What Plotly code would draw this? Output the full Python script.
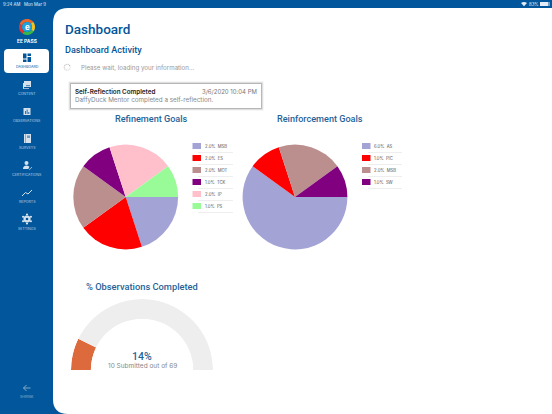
import math
import plotly.graph_objects as go

# chart data
refine_labels = ["MSB", "ES", "MOT", "TCK", "IP", "PS"]
refine_values = [2, 2, 2, 1, 2, 1]
refine_colors = ["#a3a3d6", "#ff0000", "#bc8f8f", "#800080", "#ffc0cb", "#98fb98"]

reinforce_labels = ["AS", "PIC", "MSB", "SW"]
reinforce_values = [6, 1, 2, 1]
reinforce_colors = ["#a3a3d6", "#ff0000", "#bc8f8f", "#800080"]

submitted = 10
total_obs = 69

nav_labels = ["DASHBOARD", "CONTENT", "OBSERVATIONS", "SURVEYS", "CERTIFICATIONS", "REPORTS", "SETTINGS"]
nav_label_y = [67, 94, 121, 148, 175, 202, 229]

BLUE = "#02569b"
TITLE = "#1f6399"
ICON = "#d5e2ee"
W, H = 552, 414
FONT = "Inter"
HEAD = "Roboto"

shapes = []
annos = []


def rect(x0, y0, x1, y1, color, opacity=1):
    shapes.append(dict(type="rect", xref="x", yref="y", x0=x0, y0=y0, x1=x1, y1=y1,
                       fillcolor=color, opacity=opacity, line_width=0, layer="below"))


def circle(cx, cy, r, color, opacity=1):
    shapes.append(dict(type="circle", xref="x", yref="y", x0=cx - r, y0=cy - r, x1=cx + r, y1=cy + r,
                       fillcolor=color, opacity=opacity, line_width=0, layer="below"))


def path(d, color=None, line=None, width=1):
    shapes.append(dict(type="path", xref="x", yref="y", path=d, fillcolor=color or "rgba(0,0,0,0)",
                       line=dict(color=line or "rgba(0,0,0,0)", width=width), layer="below"))


def text(x, y, s, size, color, anchor="left", weight=400, family=FONT):
    annos.append(dict(xref="x", yref="y", x=x, y=y, text=s, showarrow=False, borderpad=0, borderwidth=0,
                      xanchor=anchor, yanchor="middle", align=anchor,
                      font=dict(family=family, size=size, color=color, weight=weight)))


def arc(cx, cy, r, a0, a1):
    pts = []
    for i in range(13):
        a = math.radians(a0 + (a1 - a0) * i / 12)
        pts.append(f"{cx + r * math.cos(a):.2f},{cy + r * math.sin(a):.2f}")
    return pts


def pie_domain(cx, cy, r):
    return dict(x=[(cx - r) / W, (cx + r) / W], y=[1 - (cy + r) / H, 1 - (cy - r) / H])


def pie(labels, values, colors, cx, cy, r):
    return go.Pie(labels=labels, values=values, marker=dict(colors=colors, line=dict(width=0)),
                  sort=False, direction="clockwise", rotation=90, textinfo="none", hoverinfo="label+value",
                  showlegend=False, domain=pie_domain(cx, cy, r))


def legend(labels, values, colors, swatch_x, text_x, line_x0, line_x1):
    for i, lab in enumerate(labels):
        y = 146 + 12 * i
        rect(swatch_x, y - 3, swatch_x + 8.5, y + 3, colors[i])
        text(text_x, y, f"{values[i]:.1f}%&nbsp;&nbsp;{lab}", 4.2, "#555555")
        rect(line_x0, y + 6, line_x1, y + 6.6, "#dddddd")


# white content panel, rounded on the left
r = 15
path(f"M 53,{8 + r} Q 53,8 {53 + r},8 L {W},8 L {W},{H} L {53 + r},{H} Q 53,{H} 53,{H - r} Z", color="white")

# status bar
text(3, 4, "9:24 AM&nbsp;&nbsp;&nbsp;Mon Mar 9", 4.3, "#e4edf5")
text(539, 4, "83%", 4.3, "#e4edf5", anchor="right")
path("M 521,3 L 524,6.3 L 527,3 Q 524,0.8 521,3 Z", color="#e4edf5")
rect(540, 2, 550, 6, "#e4edf5")
rect(548, 2, 550, 6, "#6f9fc6")

# logo
for a0, a1, col in [(200, 320, "#e8682b"), (320, 395, "#f4c21f"), (35, 125, "#38b44a"), (125, 200, "#e5342b")]:
    path("M " + " L ".join(arc(27, 27, 8, a0, a1)) + " L " + " L ".join(arc(27, 27, 5, a1, a0)) + " Z", color=col)
circle(27, 27, 5, "#1fa3dc")
text(27, 27, "e", 8, "white", anchor="center", weight=700)
text(27, 40.5, "EE PASS", 4.9, "white", anchor="center", weight=700)

# selected nav item
path("M 8,49 L 45,49 Q 49,49 49,53 L 49,69 Q 49,73 45,73 L 8,73 Q 4,73 4,69 L 4,53 Q 4,49 8,49 Z", color="white")

for name, ly in zip(nav_labels, nav_label_y):
    col = BLUE if name == "DASHBOARD" else "#b9cfe2"
    text(27, ly, name, 3.6, col, anchor="center")

# nav icons
rect(23, 53.5, 26.5, 58.5, BLUE)
rect(27.5, 53.5, 31, 56, BLUE)
rect(23, 59.5, 26.5, 62, BLUE)
rect(27.5, 57, 31, 62, BLUE)

rect(24, 81, 31, 87, ICON)
rect(23, 83, 24, 88.5, ICON)
rect(23, 88, 29, 88.7, ICON)
rect(26, 85, 30, 86.2, BLUE, 0.6)

rect(23.5, 108, 30.5, 115, ICON)
rect(25, 111, 25.8, 114, BLUE)
rect(26.7, 109.5, 27.5, 114, BLUE)
rect(28.4, 112, 29.2, 114, BLUE)

rect(24, 134, 31, 143, ICON)
rect(25, 134, 25.6, 143, BLUE, 0.6)
rect(27, 135.5, 30, 138, BLUE, 0.5)

circle(26.5, 163, 2, ICON)
path("M 23,169 Q 23,165.5 26.5,165.5 Q 29,165.5 29.5,167 L 28,169 Z", color=ICON)
path("M 28.5,168.5 L 29.7,169.5 L 32,167", line=ICON, width=0.7)

path("M 22,196 L 25.5,192.5 L 28,194 L 32,190", line=ICON, width=1)

circle(27, 219, 3.6, ICON)
for k in range(6):
    a = math.radians(30 + 60 * k)
    circle(27 + 4.5 * math.cos(a), 219 + 4.5 * math.sin(a), 1.1, ICON)
circle(27, 219, 1.3, BLUE)

path("M 30.5,388 L 23.5,388 M 26.5,385 L 23.5,388 L 26.5,391", line="#9fbdd6", width=0.8)
text(27, 397, "SHRINK", 3.6, "#8fb0cc", anchor="center")

# headers
text(65, 29, "Dashboard", 13.5, BLUE, weight=500, family=HEAD)
text(65, 50, "Dashboard Activity", 9.1, BLUE, weight=500, family=HEAD)
# spinner
for k in range(10):
    a = math.radians(36 * k)
    circle(67.2 + 3 * math.cos(a), 67.2 + 3 * math.sin(a), 0.7, "#b5b5b5", 0.35 + 0.065 * k)
text(81, 67.5, "Please wait, loading your information...", 6.2, "#999999")

# activity card
for grow, op in [(2.5, 0.1), (1.5, 0.18), (0.7, 0.3)]:
    rect(71 - grow, 84 - grow, 261 + grow, 108 + grow, "#555555", op)
rect(71, 84, 261, 108, "white")
text(75, 91.5, "Self-Reflection Completed", 6.3, "#222222", weight=600)
text(257, 91.5, "3/6/2020 10:04 PM", 6, "#777777", anchor="right")
text(75, 99.5, "DaffyDuck Mentor completed a self-reflection.", 6.3, "#888888")

# pie titles
text(151, 119, "Refinement Goals", 9.1, TITLE, anchor="center", weight=500, family=HEAD)
text(320, 119, "Reinforcement Goals", 9.1, TITLE, anchor="center", weight=500, family=HEAD)
text(141.5, 286, "% Observations Completed", 9.3, TITLE, anchor="center", weight=500, family=HEAD)

legend(refine_labels, refine_values, refine_colors, 192.5, 205, 198, 233)
legend(reinforce_labels, reinforce_values, reinforce_colors, 362, 374, 368, 402)

fig = go.Figure()
fig.add_trace(go.Scatter(x=[0, W], y=[0, H], mode="markers", marker=dict(opacity=0), hoverinfo="skip", showlegend=False))
fig.add_trace(pie(refine_labels, refine_values, refine_colors, 125.7, 197, 52.4))
fig.add_trace(pie(reinforce_labels, reinforce_values, reinforce_colors, 295, 197, 52.4))

# gauge, half circle polar bars
done_deg = 180 * submitted / total_obs
rest_deg = 180 - done_deg
fig.add_trace(go.Barpolar(r=[1, 1], theta=[done_deg / 2, done_deg + rest_deg / 2], width=[done_deg, rest_deg],
                          marker=dict(color=["#dd6a3c", "#eeeeee"], line=dict(width=0)), hoverinfo="skip",
                          showlegend=False, subplot="polar"))
pct = round(100 * submitted / total_obs)
text(142, 356.5, f"{pct}%", 10.5, TITLE, anchor="center", weight=500, family=HEAD)
text(142, 365.5, f"{submitted} Submitted out of {total_obs}", 6.5, "#888888", anchor="center")

fig.update_layout(
    width=W, height=H, margin=dict(l=0, r=0, t=0, b=0),
    paper_bgcolor=BLUE, plot_bgcolor="rgba(0,0,0,0)",
    xaxis=dict(range=[0, W], visible=False, fixedrange=True, domain=[0, 1]),
    yaxis=dict(range=[H, 0], visible=False, fixedrange=True, domain=[0, 1]),
    polar=dict(domain=dict(x=[71 / W, 213 / W], y=[1 - 370 / H, 1 - 299 / H]),
               sector=[0, 180], hole=0.72, bgcolor="rgba(0,0,0,0)",
               angularaxis=dict(visible=False, rotation=180, direction="clockwise"),
               radialaxis=dict(visible=False, range=[0, 1])),
    shapes=shapes, annotations=annos,
)

fig.write_html("out.html", config=dict(displayModeBar=False), post_script="document.body.style.margin='0';")
